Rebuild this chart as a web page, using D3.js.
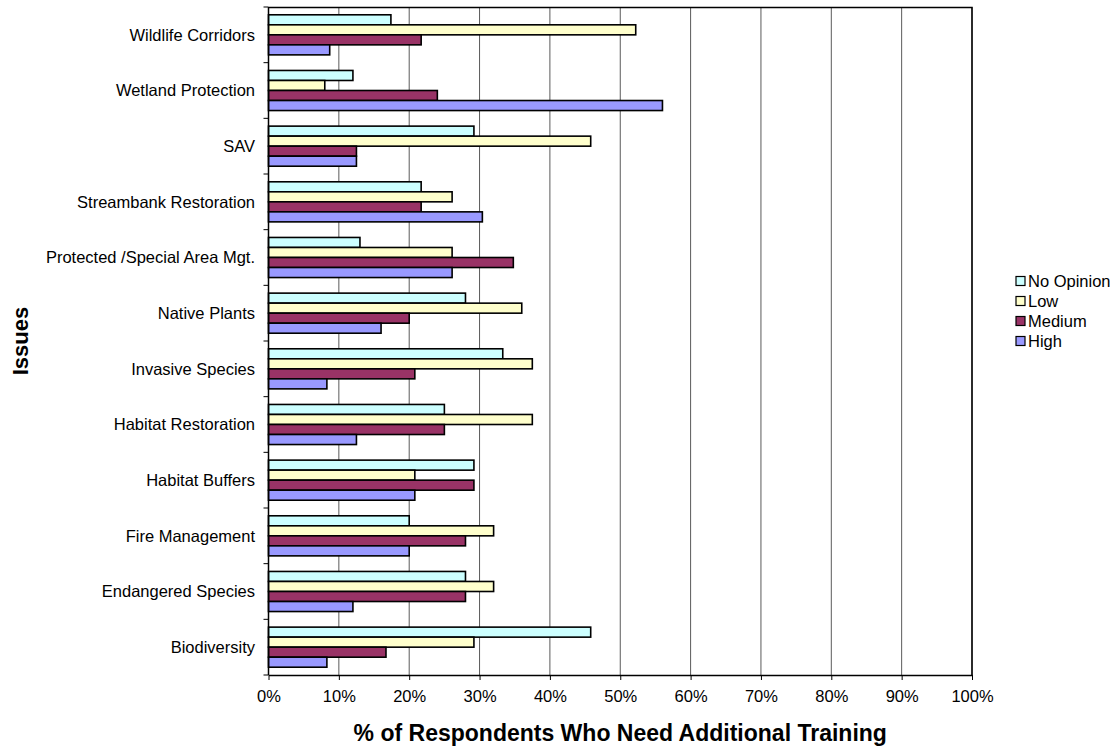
<!DOCTYPE html>
<html>
<head>
<meta charset="utf-8">
<script src="https://cdn.jsdelivr.net/npm/d3@7"></script>
<style>
  body { margin: 0; background: #fff; }
  svg { font-family: "Liberation Sans", Arial, sans-serif; }
</style>
</head>
<body>
<div id="chart"></div>
<script>
// categories, top to bottom as drawn
const issues = ["Wildlife Corridors", "Wetland Protection", "SAV", "Streambank Restoration",
  "Protected /Special Area Mgt.", "Native Plants", "Invasive Species", "Habitat Restoration",
  "Habitat Buffers", "Fire Management", "Endangered Species", "Biodiversity"];

const series = ["No Opinion", "Low", "Medium", "High"];
const colores = ["#CCFFFF", "#FFFFCC", "#993366", "#9999FF"];

// percent values per series, same order as issues
const noOpinion = [17.4, 12.0, 29.2, 21.7, 13.0, 28.0, 33.3, 25.0, 29.2, 20.0, 28.0, 45.8];
const low       = [52.2,  8.0, 45.8, 26.1, 26.1, 36.0, 37.5, 37.5, 20.8, 32.0, 32.0, 29.2];
const medium    = [21.7, 24.0, 12.5, 21.7, 34.8, 20.0, 20.8, 25.0, 29.2, 28.0, 28.0, 16.7];
const high      = [ 8.7, 56.0, 12.5, 30.4, 26.1, 16.0,  8.3, 12.5, 20.8, 20.0, 12.0,  8.3];

const xTicks = [0, 10, 20, 30, 40, 50, 60, 70, 80, 90, 100];

const valores = [noOpinion, low, medium, high];
const filas = issues.map((name, i) => ({
  name: name,
  vals: series.map((s, j) => ({serie: s, v: valores[j][i], color: colores[j]}))
}));

const W = 1117, H = 747;
const margin = {left: 268.5, right: W - 972, top: 7, bottom: H - 675};
const fs = 16.5;

const svg = d3.select("#chart").append("svg")
  .attr("width", W).attr("height", H);

const g = svg.append("g").attr("transform", `translate(${margin.left},${margin.top})`);
const iw = W - margin.left - margin.right;
const ih = H - margin.top - margin.bottom;

const scx = d3.scaleLinear([0, 100], [0, iw]);
const scy = d3.scaleBand(issues, [0, ih]).paddingInner(0.28).paddingOuter(0.14);
const scs = d3.scaleBand(series, [0, scy.bandwidth()]);

// gridlines
g.selectAll(".grid")
  .data(xTicks.slice(1))
  .join("line")
  .attr("class", "grid")
  .attr("x1", d => scx(d)).attr("x2", d => scx(d))
  .attr("y1", 0).attr("y2", ih)
  .attr("stroke", "#5a5a5a")
  .attr("stroke-width", 1);

// plot frame (top and right)
g.append("path")
  .attr("d", `M0,0.5H${iw}V${ih}`)
  .attr("fill", "none")
  .attr("stroke", "#000")
  .attr("stroke-width", 1.5);

// bars
const grupos = g.selectAll(".grupo")
  .data(filas)
  .join("g")
  .attr("class", "grupo")
  .attr("transform", d => `translate(0,${scy(d.name)})`);

grupos.selectAll("rect")
  .data(d => d.vals)
  .join("rect")
  .attr("x", 0)
  .attr("y", d => scs(d.serie))
  .attr("width", d => scx(d.v))
  .attr("height", scs.bandwidth())
  .attr("fill", d => d.color)
  .attr("stroke", "#000")
  .attr("stroke-width", 1.6);

// x axis
const xAxis = g.append("g")
  .attr("transform", `translate(0,${ih})`)
  .call(d3.axisBottom(scx).tickValues(xTicks).tickFormat(d => d + "%").tickSize(5).tickSizeOuter(0));
xAxis.select(".domain").attr("stroke", "#000").attr("stroke-width", 1.5);
xAxis.selectAll(".tick line").attr("stroke", "#000");
xAxis.selectAll("text")
  .attr("font-size", fs).attr("fill", "#000").attr("y", 15)
  .attr("font-family", "Liberation Sans, Arial, sans-serif");

// y axis: ticks at band boundaries
const yAxis = g.append("g");
yAxis.append("line")
  .attr("x1", 0).attr("x2", 0).attr("y1", 0).attr("y2", ih)
  .attr("stroke", "#000").attr("stroke-width", 1.5);
const limites = d3.range(issues.length + 1).map(i => i * scy.step());
yAxis.selectAll(".ytick")
  .data(limites)
  .join("line")
  .attr("class", "ytick")
  .attr("x1", -5).attr("x2", 0)
  .attr("y1", d => d).attr("y2", d => d)
  .attr("stroke", "#000");
yAxis.selectAll(".ylab")
  .data(issues)
  .join("text")
  .attr("class", "ylab")
  .attr("x", -13.5)
  .attr("y", d => scy(d) + scy.bandwidth() / 2)
  .attr("dy", "0.35em")
  .attr("text-anchor", "end")
  .attr("font-size", fs)
  .text(d => d);

// axis titles
svg.append("text")
  .attr("x", margin.left + iw / 2)
  .attr("y", 741)
  .attr("text-anchor", "middle")
  .attr("font-size", 23)
  .attr("font-weight", "bold")
  .text("% of Respondents Who Need Additional Training");

svg.append("text")
  .attr("transform", `translate(28,${margin.top + ih / 2}) rotate(-90)`)
  .attr("text-anchor", "middle")
  .attr("font-size", 22)
  .attr("font-weight", "bold")
  .text("Issues");

// legend
const leg = svg.append("g").attr("transform", "translate(1016,281)");
const items = leg.selectAll(".item")
  .data(series)
  .join("g")
  .attr("class", "item")
  .attr("transform", (d, i) => `translate(0,${i * 20})`);
items.append("rect")
  .attr("x", 0).attr("y", -4.5)
  .attr("width", 9).attr("height", 9)
  .attr("fill", (d, i) => colores[i])
  .attr("stroke", "#000")
  .attr("stroke-width", 1.2);
items.append("text")
  .attr("x", 12).attr("y", 0)
  .attr("dy", "0.35em")
  .attr("font-size", fs)
  .text(d => d);
</script>
</body>
</html>
